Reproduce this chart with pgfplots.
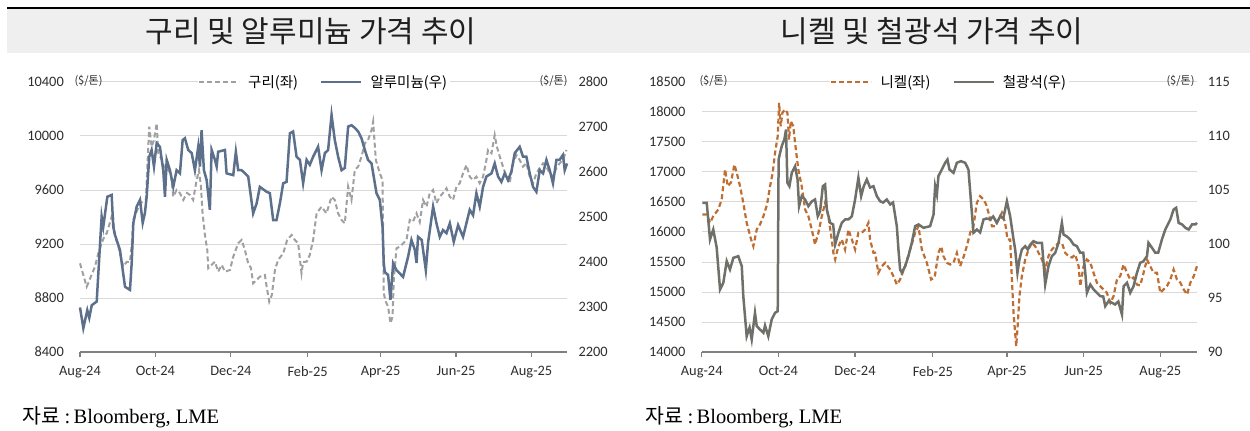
\documentclass[border=0pt]{standalone}
\usepackage{fontspec}
\setmainfont{Carlito}
\newfontfamily\kr{Noto Sans CJK KR}
\newfontfamily\tms{Liberation Serif}
\usepackage{pgfplots}
\pgfplotsset{compat=1.18}
\definecolor{cu}{RGB}{160,160,160}
\definecolor{al}{RGB}{92,112,140}
\definecolor{ni}{RGB}{190,110,50}
\definecolor{fe}{RGB}{112,112,106}
\definecolor{grd}{RGB}{217,217,217}
\definecolor{band}{RGB}{239,239,239}
\definecolor{axl}{RGB}{128,128,128}
\definecolor{txt}{RGB}{45,45,45}

\pgfplotstableread{
x y
0 9057
5.4 8884
6.7 8911
12.1 9032
14.8 9131
17.5 9205
20.2 9267
21.6 9279
26.4 9427
28.3 9254
30.7 9193
32.3 9131
35.0 9032
37.7 9067
40.4 9069
41.8 9193
43.1 9378
48.5 9502
53.3 9526
54.7 9822
56.0 10069
57.9 9921
59.8 9970
62.0 10094
63.3 9872
66.3 9822
68.7 9748
71.3 9748
73.5 9719
75.4 9550
78.1 9600
80.8 9576
83.5 9526
86.5 9578
88.9 9563
91.5 9526
94.3 9674
96.2 9748
97.8 9625
99.1 9427
101.0 9267
102.9 9156
103.7 9020
106.4 9045
109.1 9069
111.7 8995
114.5 9045
117.2 8995
121.2 9007
123.9 9106
127.9 9205
130.7 9230
133.3 9156
136.0 9057
138.2 9022
140.0 8909
142.8 8933
145.4 8958
149.5 8970
150.9 8884
153.0 8773
155.1 8822
157.6 9007
160.2 9082
164.3 9131
167.5 9230
171.1 9267
173.7 9230
176.4 9205
179.1 8983
180.4 9067
183.2 9069
185.8 9119
188.5 9230
191.3 9427
195.3 9476
199.3 9427
203.4 9550
206.0 9526
208.7 9427
211.5 9378
214.1 9353
216.8 9625
219.5 9526
222.2 9748
224.9 9773
227.6 9847
230.3 9946
232.9 9970
235.7 10044
237.0 10106
239.2 9822
242.4 9724
244.6 9674
245.6 8835
247.2 8773
249.1 8736
251.0 8613
252.7 8662
253.7 8933
255.9 9168
258.6 9180
264.0 9230
266.6 9378
269.1 9363
272.1 9427
274.7 9363
277.4 9526
280.1 9476
282.8 9576
285.5 9600
288.2 9502
290.9 9550
293.5 9578
296.3 9613
299.0 9550
301.6 9526
304.4 9625
307.0 9650
309.7 9724
312.5 9785
315.1 9699
317.8 9674
320.5 9699
323.2 9650
325.9 9699
328.6 9822
329.9 9896
332.7 9872
335.3 10007
336.9 9926
339.4 9847
342.0 9773
344.8 9699
347.4 9650
350.1 9798
352.9 9859
355.5 9822
358.2 9773
360.9 9800
363.6 9699
366.3 9650
369.0 9724
371.7 9763
374.4 9798
377.1 9773
379.8 9724
382.4 9699
385.2 9763
387.8 9798
390.5 9822
393.3 9896
}\copper

\pgfplotstableread{
x y
0 2299
2.7 2253
5.9 2293
7.5 2276
9.5 2304
13.5 2312
17.5 2501
18.8 2478
22.1 2545
25.6 2549
26.9 2478
28.3 2460
32.3 2427
36.4 2345
40.4 2338
41.8 2398
43.1 2486
45.8 2523
48.5 2538
50.7 2487
52.5 2509
53.9 2545
56.0 2634
57.9 2649
59.8 2612
62.0 2664
64.6 2656
67.3 2604
68.7 2545
70.1 2627
72.7 2604
75.4 2567
78.1 2604
80.8 2597
83.0 2671
84.8 2675
87.5 2649
90.3 2642
92.9 2604
95.6 2656
97.0 2612
98.3 2693
100.2 2604
102.4 2582
105.0 2516
106.4 2649
109.1 2627
110.5 2612
111.7 2645
117.2 2649
118.5 2597
123.9 2593
126.0 2645
127.9 2604
130.7 2604
136.0 2590
140.0 2508
142.8 2530
145.4 2567
150.9 2556
153.5 2553
156.2 2493
158.9 2493
161.6 2530
164.3 2575
167.0 2578
169.7 2686
172.3 2690
175.1 2634
177.8 2627
180.4 2575
183.2 2627
185.8 2616
188.5 2634
192.5 2656
195.3 2604
198.0 2642
200.6 2649
203.4 2727
206.0 2671
208.7 2634
211.5 2604
214.1 2609
216.8 2701
219.5 2704
222.2 2698
224.9 2690
227.6 2675
230.3 2649
232.9 2627
235.7 2619
239.7 2553
242.4 2538
244.6 2478
245.6 2398
246.4 2378
249.1 2371
251.0 2316
253.2 2397
255.9 2382
261.2 2367
265.3 2412
268.0 2449
270.7 2427
272.1 2398
273.3 2456
276.3 2449
279.6 2382
281.4 2442
285.5 2523
288.2 2486
290.9 2456
293.5 2471
296.3 2464
299.0 2486
302.2 2445
305.7 2482
309.7 2456
312.5 2487
315.1 2516
317.8 2504
320.5 2553
323.2 2523
325.9 2567
328.6 2590
332.7 2597
335.3 2619
338.0 2590
340.7 2578
343.4 2597
346.1 2582
348.8 2601
351.5 2642
355.5 2656
358.2 2634
360.9 2634
363.6 2597
366.3 2567
369.0 2556
371.7 2604
374.4 2597
377.1 2627
379.8 2604
382.4 2575
385.2 2627
387.8 2627
390.5 2638
391.9 2604
393.8 2619
}\alum

\pgfplotstableread{
x y
0.5 16292
4.0 16292
6.6 16153
9.2 16263
13.2 16375
15.9 16542
18.6 17042
20.7 16763
23.3 16825
26.0 17125
27.9 16987
30.5 16763
33.1 16487
35.8 16153
39.3 15875
41.1 15763
43.8 16042
46.4 16125
49.1 16263
52.0 16458
54.4 16763
56.5 16987
58.4 17320
60.5 17597
61.6 18153
62.9 17763
64.2 17987
66.3 18042
68.2 17987
69.5 17542
70.9 17847
72.9 17763
74.3 17487
76.9 17042
79.6 16763
82.3 16375
84.9 16263
87.6 16042
90.2 15792
92.9 15987
95.6 16263
98.2 16487
100.8 16263
103.5 15875
104.8 15653
106.2 15542
108.8 15763
111.5 15875
114.1 15708
116.8 16042
119.5 15875
122.1 15708
124.7 15987
127.4 15987
130.1 16042
132.7 16153
134.0 15875
136.7 15653
138.0 15653
140.6 15320
143.4 15430
146.0 15487
150.0 15375
152.6 15263
155.3 15125
157.9 15208
161.9 15430
165.9 15708
169.9 15987
172.5 16097
175.2 15708
179.2 15487
182.6 15208
185.4 15242
188.4 15653
190.6 15758
192.4 15597
195.1 15487
197.7 15458
200.4 15487
203.1 15653
205.7 15430
208.3 15575
211.0 15763
213.7 15987
216.3 16097
219.0 16487
221.6 16597
224.3 16542
226.4 16458
228.3 16320
231.0 16097
233.6 16097
236.2 16208
238.9 16320
241.5 16153
243.4 15875
245.5 15875
246.9 15208
248.2 14653
250.3 14097
251.3 14375
252.9 14930
254.8 15263
257.5 15542
260.1 15708
262.8 15820
265.4 15763
268.1 15653
270.8 15542
273.4 15375
276.0 15597
278.7 15708
281.4 15763
284.0 15820
286.7 15820
289.3 15653
292.0 15597
294.7 15575
297.3 15625
300.0 15430
301.3 15097
303.9 15430
306.6 15542
309.3 15487
311.9 15320
314.6 15153
317.2 15097
319.8 15042
322.5 14987
325.2 14820
327.8 14930
330.5 15208
333.1 15263
335.8 15458
338.5 15320
341.1 15208
343.7 15242
346.4 15125
349.0 15108
351.7 15320
354.4 15542
357.0 15430
359.6 15320
362.4 15320
365.0 14987
367.6 15042
370.3 15097
373.0 15208
375.6 15375
378.3 15208
380.9 15158
383.6 15042
386.3 14958
388.9 15153
391.6 15263
394.2 15430
}\nickel

\pgfplotstableread{
x y
0.5 103.81
4.0 103.81
6.6 100.42
9.2 101.34
11.9 99.68
14.6 95.79
17.2 96.41
19.9 98.41
22.5 97.64
25.2 98.72
29.1 98.87
31.9 97.94
33.1 95.17
35.8 91.46
38.1 92.27
39.8 91.16
42.4 93.63
43.8 92.39
46.4 92.08
49.1 91.78
50.4 92.45
53.0 91.46
55.7 93.01
58.4 93.63
60.5 93.78
61.2 107.82
62.4 108.44
63.7 109.06
65.8 109.68
67.1 110.60
68.2 105.67
69.8 105.35
71.7 106.59
74.3 107.20
76.3 105.97
77.5 103.50
79.6 104.43
82.3 104.12
84.9 103.50
87.6 103.94
90.2 104.12
92.4 102.57
94.2 103.01
96.4 105.35
98.2 105.51
99.6 103.19
102.2 101.96
104.6 101.81
106.2 99.95
108.8 101.04
111.5 101.96
114.1 102.27
116.8 102.27
119.5 102.57
122.1 104.12
124.7 106.13
126.9 104.43
128.9 105.32
131.4 105.97
134.0 105.23
136.7 105.35
139.4 104.43
142.0 103.96
144.4 103.84
147.3 104.12
150.0 103.66
152.3 103.84
155.3 101.65
156.6 99.49
157.9 97.64
159.3 97.33
161.9 97.94
164.5 98.87
167.2 100.11
169.9 101.65
172.5 101.81
176.5 101.50
181.8 101.65
184.5 102.73
185.8 105.35
187.2 104.58
188.4 106.28
191.1 106.90
193.8 107.52
195.6 107.82
197.2 106.90
200.4 106.59
203.1 107.52
206.3 107.67
209.7 107.52
212.3 106.90
214.2 104.12
216.3 101.04
219.0 101.34
221.6 101.07
224.3 102.27
226.8 102.36
229.6 102.27
232.0 102.55
234.9 101.96
237.6 102.57
240.0 102.36
242.9 103.96
245.5 102.57
248.2 100.42
249.5 99.49
251.3 97.33
252.9 98.57
254.8 99.49
257.5 99.80
259.5 99.49
261.5 99.95
264.1 100.26
266.8 100.11
270.8 100.11
273.4 96.25
276.0 97.94
278.7 98.87
281.4 99.19
284.0 100.11
286.7 101.96
288.0 100.88
290.7 100.69
293.3 100.42
296.0 99.95
298.6 99.80
301.3 99.19
303.7 99.19
305.3 97.33
306.6 95.48
309.3 96.25
311.9 95.79
314.6 95.48
317.2 95.17
319.6 95.14
321.2 94.24
323.8 94.70
326.5 94.56
329.1 94.40
331.6 94.68
334.5 93.47
335.8 96.09
338.5 96.41
341.1 95.48
343.7 96.09
346.4 97.33
349.0 98.26
351.4 98.38
354.4 98.87
355.6 100.11
358.4 99.65
361.0 99.19
363.4 99.21
366.3 100.42
369.0 101.34
370.3 101.65
373.0 102.27
375.6 103.19
377.6 103.35
379.6 101.96
382.3 101.81
385.0 101.50
387.6 101.34
390.3 101.81
392.9 101.81
394.2 101.96
}\iron

\pgfplotsset{
  base/.style={
    scale only axis, height=270bp,
    xmin=0, xmax=394,
    xtick={0,61,122,184,243,304,365},
    xticklabels={Aug-24,Oct-24,Dec-24,Feb-25,Apr-25,Jun-25,Aug-25},
    ticklabel style={font=\fontsize{14.4bp}{16bp}\selectfont, text=txt},
    /pgf/number format/assume math mode=true,
    /pgf/number format/set thousands separator={},
    /pgf/number format/fixed,
    scaled y ticks=false, scaled x ticks=false,
    clip=false,
  },
  leftax/.style={
    base,
    axis x line*=bottom, axis y line*=left,
    y axis line style={draw=none},
    x axis line style={draw=axl, line width=1.3bp},
    xtick style={draw=axl, line width=1.1bp},
    ytick style={draw=none},
    tick align=outside, major tick length=5bp,
    ymajorgrids, grid style={draw=grd, line width=1bp},
    xticklabel style={anchor=north, inner sep=0pt, yshift=-9bp},
    yticklabel style={anchor=east, inner sep=0pt, xshift=-11bp},
  },
  rightax/.style={
    base,
    axis x line=none, axis y line*=right,
    y axis line style={draw=none},
    ytick style={draw=none},
    yticklabel style={anchor=west, inner sep=0pt, xshift=11bp},
    legend style={at={(0.5,1)}, anchor=center, draw=none, fill=white,
      font=\kr\fontsize{14.5bp}{17bp}\selectfont, text=black,
      legend columns=2, inner sep=0.5bp,
      /tikz/every odd column/.append style={column sep=6bp},
      /tikz/every even column/.append style={column sep=20bp}},
    legend image code/.code={\draw[##1] (0bp,0bp) -- (40bp,0bp);},
  },
}

\begin{document}
\begin{tikzpicture}[x=1bp,y=1bp]
\path[use as bounding box] (0,0) rectangle (1250,430);
\fill[band] (7,377.3) rectangle (1250,421);
\fill[black] (7,421) rectangle (1250,423.3);
\node[font=\kr\fontsize{30bp}{34bp}\selectfont, text=black!88] at (311,399) {구리 및 알루미늄 가격 추이};
\node[font=\kr\fontsize{30bp}{34bp}\selectfont, text=black!88] at (932,399) {니켈 및 철광석 가격 추이};

% ---- left panel
\begin{axis}[leftax, at={(80bp,78bp)}, anchor=south west, width=487.3bp,
  ymin=8400, ymax=10400, ytick={8400,8800,9200,9600,10000,10400}]
\addplot[cu, line width=2bp, dash pattern=on 5bp off 3bp] table[x=x,y=y] {\copper};
\end{axis}
\begin{axis}[rightax, at={(80bp,78bp)}, anchor=south west, width=487.3bp,
  ymin=2200, ymax=2800, ytick={2200,2300,2400,2500,2600,2700,2800}]
\addlegendimage{cu, line width=2bp, dash pattern=on 5bp off 3bp}
\addlegendentry{구리(좌)}
\addplot[al, line width=2.5bp] table[x=x,y=y] {\alum};
\addlegendentry{알루미늄(우)}
\end{axis}
\node[font=\kr\fontsize{11bp}{13bp}\selectfont, text=txt, anchor=west] at (71,349) {(\$/톤)};
\node[font=\kr\fontsize{11bp}{13bp}\selectfont, text=txt, anchor=east] at (571,349) {(\$/톤)};

% ---- right panel
\begin{axis}[leftax, at={(701.7bp,78bp)}, anchor=south west, width=495bp,
  ymin=14000, ymax=18500, ytick={14000,14500,15000,15500,16000,16500,17000,17500,18000,18500}]
\addplot[ni, line width=2.2bp, dash pattern=on 5bp off 3bp] table[x=x,y=y] {\nickel};
\end{axis}
\begin{axis}[rightax, at={(701.7bp,78bp)}, anchor=south west, width=495bp,
  ymin=90, ymax=115, ytick={90,95,100,105,110,115}]
\addlegendimage{ni, line width=2.2bp, dash pattern=on 5bp off 3bp}
\addlegendentry{니켈(좌)}
\addplot[fe, line width=2.5bp] table[x=x,y=y] {\iron};
\addlegendentry{철광석(우)}
\end{axis}
\node[font=\kr\fontsize{11bp}{13bp}\selectfont, text=txt, anchor=west] at (696,349) {(\$/톤)};
\node[font=\kr\fontsize{11bp}{13bp}\selectfont, text=txt, anchor=east] at (1198,349) {(\$/톤)};

% ---- sources
\node[anchor=base west, inner sep=0pt, font=\fontsize{20.5bp}{24bp}\selectfont] at (22,7) {{\kr 자료} {\tms :\,Bloomberg, LME}};
\node[anchor=base west, inner sep=0pt, font=\fontsize{20.5bp}{24bp}\selectfont] at (645,7) {{\kr 자료} {\tms :\,Bloomberg, LME}};
\end{tikzpicture}
\end{document}
